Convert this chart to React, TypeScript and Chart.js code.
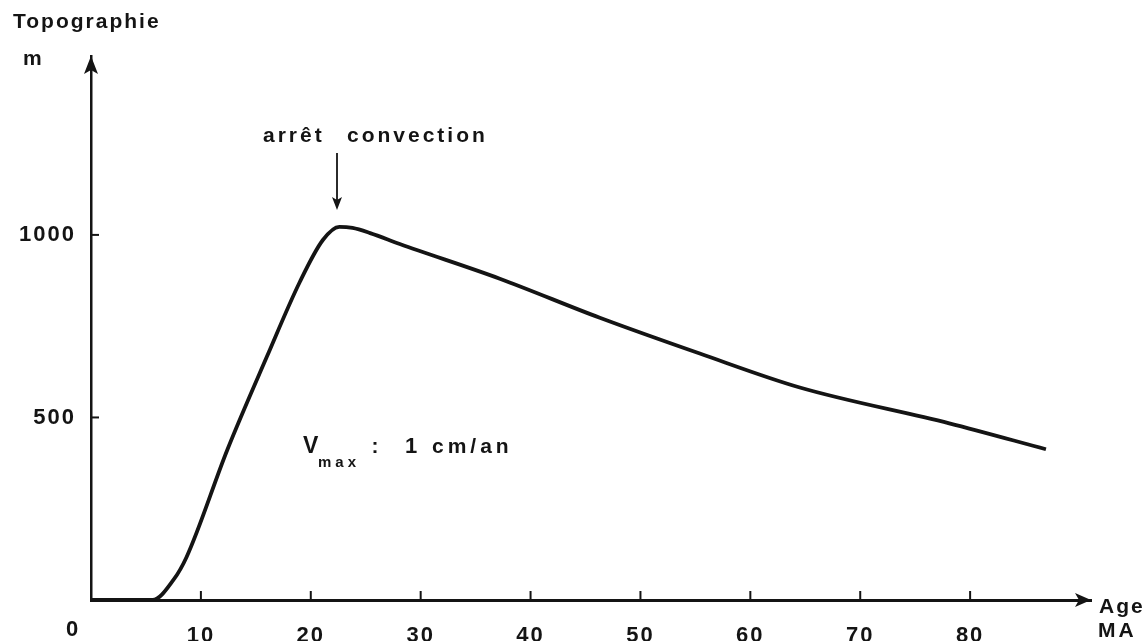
import { useEffect, useRef } from 'react';
import { Chart, registerables } from 'chart.js';

Chart.register(...registerables);

// Age (Ma) and topography (m)
const AGE_MA = [0, 5.6, 7.5, 8.7, 12.4, 16.0, 19.0, 21.1, 22.6, 23.8, 25.4, 28.1, 37.2, 46.3, 55.4, 64.5, 78.1, 86.9];
const TOPO_M = [0, 0, 55, 118, 411, 666, 871, 986, 1022, 1019, 1005, 975, 880, 773, 675, 582, 484, 413];

const X_TICKS = [10, 20, 30, 40, 50, 60, 70, 80];
const Y_TICKS = [500, 1000];
const X_MAX = 91;
const Y_MAX = 1490;

const INK = '#141414';
const FONT = '"Liberation Sans", Arial, Helvetica, sans-serif';

function txt(ctx: CanvasRenderingContext2D, s: string, x: number, y: number, size: number, spacing: number, align: CanvasTextAlign = 'left') {
  ctx.font = `bold ${size}px ${FONT}`;
  (ctx as any).letterSpacing = `${spacing}px`;
  ctx.textAlign = align;
  ctx.textBaseline = 'alphabetic';
  ctx.fillText(s, x, y);
}

const spacingPlugin = {
  id: 'spacing',
  beforeUpdate(chart: any) { chart.ctx.letterSpacing = '2px'; },
  beforeDraw(chart: any) { chart.ctx.letterSpacing = '2px'; },
};

const decor = {
  id: 'decor',
  afterDraw(chart: any) {
    const { ctx, chartArea: a, scales } = chart;
    const xs = scales.x, ys = scales.y;
    const x0 = xs.getPixelForValue(0);
    const y0 = ys.getPixelForValue(0);
    ctx.save();
    ctx.fillStyle = INK;
    ctx.strokeStyle = INK;
    ctx.lineCap = 'butt';

    // y arrowhead
    ctx.beginPath();
    ctx.moveTo(x0, a.top);
    ctx.lineTo(x0 - 7, a.top + 18);
    ctx.lineTo(x0, a.top + 14);
    ctx.lineTo(x0 + 7, a.top + 18);
    ctx.closePath();
    ctx.fill();
    // x arrowhead
    ctx.beginPath();
    ctx.moveTo(a.right, y0);
    ctx.lineTo(a.right - 16, y0 - 7);
    ctx.lineTo(a.right - 12, y0);
    ctx.lineTo(a.right - 16, y0 + 7);
    ctx.closePath();
    ctx.fill();

    // inward tick marks
    ctx.lineWidth = 2;
    X_TICKS.forEach((v) => {
      const px = xs.getPixelForValue(v);
      ctx.beginPath();
      ctx.moveTo(px, y0);
      ctx.lineTo(px, y0 - 9);
      ctx.stroke();
    });
    Y_TICKS.forEach((v) => {
      const py = ys.getPixelForValue(v);
      ctx.beginPath();
      ctx.moveTo(x0, py);
      ctx.lineTo(x0 + 8, py);
      ctx.stroke();
    });

    // texts
    txt(ctx, 'Topographie', 13, 28, 21, 2);
    txt(ctx, 'm', 23, 65, 21, 2);
    txt(ctx, '0', 72, 636, 22, 0, 'center');
    txt(ctx, 'Age', 1099, 613, 21, 2);
    txt(ctx, 'MA', 1098, 637, 21, 3);

    // annotation
    txt(ctx, 'arrêt', 263, 142, 21, 3);
    txt(ctx, 'convection', 347, 142, 21, 3);
    ctx.lineWidth = 1.8;
    ctx.beginPath();
    ctx.moveTo(337, 153);
    ctx.lineTo(337, 204);
    ctx.stroke();
    ctx.beginPath();
    ctx.moveTo(337, 210);
    ctx.lineTo(332, 197);
    ctx.lineTo(337, 200);
    ctx.lineTo(342, 197);
    ctx.closePath();
    ctx.fill();

    txt(ctx, 'V', 303, 453, 23, 0);
    txt(ctx, 'max', 318, 467, 15, 4);
    txt(ctx, ':', 375, 453, 21, 0, 'center');
    txt(ctx, '1', 411, 453, 22, 0, 'center');
    txt(ctx, 'cm/an', 432, 453, 21, 4);
    ctx.restore();
  },
};

export default function App() {
  const ref = useRef<HTMLCanvasElement>(null);
  useEffect(() => {
    const chart = new Chart(ref.current as HTMLCanvasElement, {
      type: 'line',
      data: {
        datasets: [
          {
            data: AGE_MA.map((x, i) => ({ x, y: TOPO_M[i] })),
            borderColor: INK,
            borderWidth: 3.8,
            pointRadius: 0,
            cubicInterpolationMode: 'monotone',
            fill: false,
          },
        ],
      },
      options: {
        animation: false,
        responsive: false,
        devicePixelRatio: 1,
        layout: { padding: { top: 56, right: 56, left: 0, bottom: 0 } },
        plugins: { legend: { display: false }, tooltip: { enabled: false }, title: { display: false } },
        scales: {
          x: {
            type: 'linear',
            min: 0,
            max: X_MAX,
            afterBuildTicks: (s: any) => { s.ticks = X_TICKS.map((v) => ({ value: v })); },
            afterFit: (s: any) => { s.height = 41; },
            grid: { display: false },
            border: { display: true, color: INK, width: 3 },
            ticks: { color: INK, padding: 15, maxRotation: 0, autoSkip: false, callback: (v: any) => String(v), font: { family: FONT, size: 22, weight: 'bold' } },
          },
          y: {
            type: 'linear',
            min: 0,
            max: Y_MAX,
            afterBuildTicks: (s: any) => { s.ticks = Y_TICKS.map((v) => ({ value: v })); },
            afterFit: (s: any) => { s.width = 91; },
            grid: { display: false },
            border: { display: true, color: INK, width: 2.5 },
            ticks: { color: INK, padding: 7, callback: (v: any) => String(v), font: { family: FONT, size: 22, weight: 'bold' } },
          },
        },
      },
      plugins: [spacingPlugin, decor],
    } as any);
    return () => chart.destroy();
  }, []);
  return (
    <div style={{ position: 'fixed', left: 0, top: 0, width: 1147, height: 641, background: '#fff' }}>
      <canvas ref={ref} width={1147} height={641} style={{ display: 'block', width: 1147, height: 641 }} />
    </div>
  );
}
